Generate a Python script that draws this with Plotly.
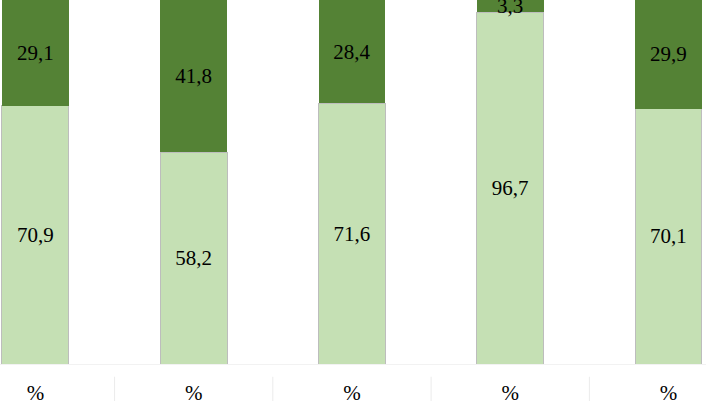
import plotly.graph_objects as go

# share values per column (%)
categories = ["%", "%", "%", "%", "%"]
light_vals = [70.9, 58.2, 71.6, 96.7, 70.1]
dark_vals = [29.1, 41.8, 28.4, 3.3, 29.9]

def fmt(v):
    return f"{v:.1f}".replace(".", ",")

xpos = list(range(len(categories)))
serif = "Times New Roman, Liberation Serif, DejaVu Serif, serif"

fig = go.Figure()
fig.add_trace(go.Bar(
    x=xpos, y=light_vals, name="light",
    marker=dict(color="#C5E0B4", line=dict(color="#BDBDBD", width=1)),
    text=[fmt(v) for v in light_vals], textposition="inside",
    insidetextanchor="middle", constraintext="none",
    textfont=dict(family=serif, size=21, color="black"),
    width=0.423,
))
fig.add_trace(go.Bar(
    x=xpos, y=dark_vals, name="dark",
    marker=dict(color="#548235", line=dict(color="#548235", width=0)),
    text=[fmt(v) for v in dark_vals], textposition="inside",
    insidetextanchor="middle", constraintext="none",
    textfont=dict(family=serif, size=21, color="black"),
    width=0.423,
))

fig.update_layout(
    barmode="stack",
    width=706, height=401,
    margin=dict(l=0, r=0, t=0, b=37, autoexpand=False),
    plot_bgcolor="white", paper_bgcolor="white",
    showlegend=False,
)
fig.update_xaxes(
    range=[-0.224, 4.237], tickvals=xpos, ticktext=categories,
    tickfont=dict(family=serif, size=21, color="black"),
    showgrid=False, zeroline=False, showline=True, linecolor="#F2F2F2",
    ticks="outside", ticklen=10, tickcolor="rgba(0,0,0,0)",
)
fig.update_yaxes(range=[0, 100], visible=False)

# faint category separators below the plot
for b in [0.5, 1.5, 2.5, 3.5]:
    fig.add_shape(type="line", xref="x", yref="paper", x0=b, x1=b,
                  y0=-0.035, y1=-0.11, line=dict(color="#EBEBEB", width=1))

fig.write_html("out.html", config={"displayModeBar": False},
               post_script="document.body.style.margin='0';")
